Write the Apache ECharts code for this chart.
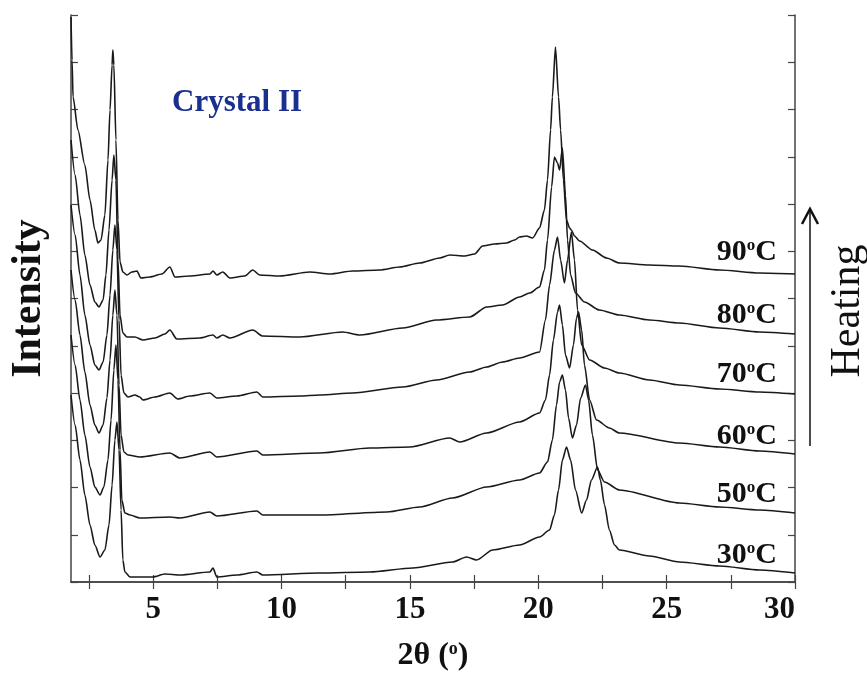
<!DOCTYPE html>
<html>
<head>
<meta charset="utf-8">
<script src="https://cdn.jsdelivr.net/npm/echarts@6/dist/echarts.min.js"></script>
<style>
  html, body { margin: 0; background: #fff; }
  #main { width: 867px; height: 673px; }
</style>
</head>
<body>
<div id="main"></div>
<script>
// XRD patterns of Crystal II on heating, [2theta, intensity (a.u., stacked)]
const pat30 = [[1.80,187],[1.96,157],[2.15,122],[2.34,87],[2.54,57],[2.73,37],[2.93,25],[3.12,32],[3.28,57],[3.40,97],[3.51,142],[3.59,160],[3.67,132],[3.75,72],[3.82,22],[3.90,10],[4.10,5],[4.99,5],[5.46,8],[6.04,7],[7.21,10],[7.33,14],[7.48,5],[8.26,7],[9.04,10],[9.27,7],[11.49,9],[13.43,10],[15.11,14],[16.66,20],[17.21,25],[17.60,22],[18.22,32],[19.27,37],[20.05,45],[20.44,52],[20.63,67],[20.79,92],[20.94,122],[21.10,135],[21.26,122],[21.45,92],[21.69,69],[21.88,82],[22.07,102],[22.31,115],[22.42,102],[22.58,77],[22.77,52],[22.97,37],[23.16,32],[24.33,26],[25.50,20],[27.06,16],[28.62,12],[30.0,9]];
const pat50 = [[1.80,247],[1.96,217],[2.15,182],[2.34,147],[2.54,115],[2.73,95],[2.93,87],[3.08,95],[3.24,122],[3.36,162],[3.47,212],[3.55,237],[3.63,202],[3.71,132],[3.78,82],[3.90,69],[4.10,67],[4.48,64],[5.65,65],[6.04,64],[7.21,70],[7.48,66],[9.04,71],[9.27,67],[11.49,67],[14.10,70],[15.38,75],[16.66,84],[17.99,95],[19.27,102],[20.05,109],[20.36,120],[20.55,142],[20.71,177],[20.83,200],[20.94,207],[21.06,192],[21.18,164],[21.33,144],[21.49,157],[21.65,184],[21.84,197],[21.96,182],[22.11,147],[22.31,112],[22.58,100],[23.16,92],[25.50,79],[27.06,75],[28.62,72],[30.0,69]];
const pat60 = [[1.80,312],[1.96,282],[2.15,247],[2.34,210],[2.54,177],[2.73,157],[2.89,149],[3.05,157],[3.20,184],[3.32,222],[3.43,267],[3.51,292],[3.59,267],[3.67,197],[3.75,147],[3.86,130],[4.02,127],[4.48,125],[5.65,129],[6.04,124],[7.21,130],[7.48,125],[9.04,131],[9.27,127],[11.49,129],[13.43,134],[14.99,135],[16.55,144],[16.94,140],[17.99,149],[19.27,160],[20.05,169],[20.28,182],[20.44,207],[20.59,242],[20.75,270],[20.83,277],[20.94,257],[21.06,227],[21.22,214],[21.37,237],[21.49,264],[21.57,270],[21.69,252],[21.80,217],[22.00,182],[22.27,162],[22.77,154],[23.16,149],[25.50,139],[27.06,135],[28.62,131],[30.0,128]];
const pat70 = [[1.80,377],[1.96,347],[2.15,307],[2.34,267],[2.54,237],[2.73,217],[2.89,212],[3.05,220],[3.20,247],[3.32,287],[3.43,332],[3.51,357],[3.59,332],[3.67,262],[3.75,207],[3.86,189],[4.02,185],[4.29,187],[4.48,185],[4.60,182],[5.07,185],[5.65,189],[5.96,183],[6.43,186],[7.21,189],[7.48,184],[8.26,186],[9.04,190],[9.27,185],[10.71,186],[11.49,187],[12.77,189],[14.72,195],[16.04,202],[17.33,210],[17.99,215],[18.61,220],[19.27,224],[20.05,230],[20.28,262],[20.44,297],[20.63,332],[20.75,345],[20.87,322],[21.02,299],[21.14,322],[21.29,350],[21.41,322],[21.53,272],[21.69,237],[22.00,222],[22.58,214],[23.16,209],[24.33,202],[25.50,197],[27.06,193],[28.62,190],[30.0,188]];
const pat80 = [[1.80,442],[1.96,407],[2.15,367],[2.34,327],[2.54,297],[2.73,280],[2.89,275],[3.05,282],[3.16,307],[3.28,352],[3.40,402],[3.47,427],[3.55,402],[3.63,322],[3.71,267],[3.82,249],[3.98,245],[4.29,245],[4.60,242],[5.07,244],[5.46,248],[5.65,252],[5.92,243],[6.82,244],[7.33,247],[7.48,244],[7.71,247],[7.99,244],[8.88,252],[9.27,246],[10.71,245],[12.38,250],[13.05,247],[14.72,254],[16.04,262],[17.33,265],[17.99,275],[18.61,277],[19.27,285],[19.66,289],[20.05,295],[20.24,312],[20.36,342],[20.52,395],[20.63,425],[20.75,419],[20.83,412],[20.94,434],[21.06,387],[21.14,342],[21.26,307],[21.45,289],[21.80,280],[22.38,272],[23.16,267],[24.33,262],[25.50,259],[27.06,254],[28.62,250],[30.0,248]];
const pat90 = [[1.80,565],[1.84,522],[1.88,485],[2.07,452],[2.34,417],[2.54,382],[2.73,352],[2.85,339],[2.97,342],[3.12,367],[3.24,422],[3.32,472],[3.40,517],[3.43,532],[3.47,517],[3.55,442],[3.63,362],[3.71,320],[3.82,310],[3.98,307],[4.17,310],[4.37,311],[4.52,304],[4.87,305],[5.34,308],[5.65,315],[5.85,305],[6.43,306],[7.21,308],[7.33,311],[7.48,307],[7.71,310],[7.99,304],[8.57,306],[8.88,312],[9.15,307],[9.93,306],[11.10,310],[11.88,308],[12.77,311],[13.82,312],[14.60,315],[15.38,319],[16.16,324],[16.55,327],[17.13,326],[17.52,328],[17.83,336],[18.30,338],[18.76,339],[19.08,342],[19.27,345],[19.54,346],[19.78,344],[20.05,354],[20.24,372],[20.36,402],[20.48,452],[20.55,485],[20.67,535],[20.79,485],[20.87,452],[20.98,402],[21.10,362],[21.22,354],[21.29,352],[21.41,346],[21.61,341],[22.11,332],[22.66,324],[23.16,319],[24.33,317],[25.50,316],[27.06,312],[28.62,309],[30.0,308]];

const temps = ['30', '50', '60', '70', '80', '90'];
const patterns = [pat30, pat50, pat60, pat70, pat80, pat90];
const xLabelValues = [5, 10, 15, 20, 25, 30];
const xTickValues = [2.5, 5, 7.5, 10, 12.5, 15, 17.5, 20, 22.5, 25, 27.5, 30];
const labelY = [555, 494, 436, 374, 315, 252];

const serif = "'Liberation Serif', 'Times New Roman', serif";
const axisColor = '#444';

const chart = echarts.init(document.getElementById('main'));

const xBase = {
  type: 'value',
  min: 1.8,
  max: 30,
  axisLine: { lineStyle: { color: axisColor, width: 1.5 } },
  axisTick: { inside: true, length: 7, customValues: xTickValues, lineStyle: { color: axisColor, width: 1.2 } },
  splitLine: { show: false }
};
const yBase = {
  type: 'value',
  min: 0,
  max: 567,
  interval: 47.25,
  axisLine: { show: true, lineStyle: { color: axisColor, width: 1.5 } },
  axisTick: { show: true, inside: true, length: 7, lineStyle: { color: axisColor, width: 1.2 } },
  axisLabel: { show: false },
  splitLine: { show: false }
};

const labelGraphics = temps.map((t, i) => ({
  type: 'text',
  x: 777,
  y: labelY[i],
  style: {
    text: t + '{s|o}C',
    fontFamily: serif,
    fontWeight: 'bold',
    fontSize: 30,
    fill: '#111',
    align: 'right',
    verticalAlign: 'middle',
    rich: { s: { fontFamily: serif, fontWeight: 'bold', fontSize: 17, verticalAlign: 'top', padding: [0, 0, 10, 0] } }
  }
}));

const option = {
  animation: false,
  backgroundColor: '#fff',
  grid: { left: 71, right: 72, top: 15, bottom: 91, outerBoundsMode: 'none', containLabel: false },
  xAxis: [
    Object.assign({}, xBase, {
      position: 'bottom',
      axisLabel: {
        customValues: xLabelValues,
        margin: 12,
        alignMaxLabel: 'right',
        fontFamily: serif, fontWeight: 'bold', fontSize: 31, color: '#111'
      },
      name: '2θ ({s|o})',
      nameLocation: 'middle',
      nameGap: 58,
      nameTextStyle: {
        fontFamily: serif, fontWeight: 'bold', fontSize: 32, color: '#111',
        rich: { s: { fontFamily: serif, fontWeight: 'bold', fontSize: 18, verticalAlign: 'top', padding: [0, 0, 12, 0] } }
      }
    }),
    Object.assign({}, xBase, { position: 'top', axisLabel: { show: false } })
  ],
  yAxis: [
    Object.assign({}, yBase, {
      position: 'left',
      name: 'Intensity',
      nameLocation: 'middle',
      nameGap: 21,
      nameTextStyle: { fontFamily: serif, fontWeight: 'bold', fontSize: 42, color: '#111' }
    }),
    Object.assign({}, yBase, { position: 'right' })
  ],
  series: patterns.map((p, i) => ({
    name: temps[i] + '°C',
    type: 'line',
    data: p,
    showSymbol: false,
    smooth: 0.25,
    smoothMonotone: 'x',
    lineStyle: { color: '#1a1a1a', width: 1.6 },
    z: 3
  })),
  graphic: labelGraphics.concat([
    {
      type: 'text', x: 172, y: 103,
      style: { text: 'Crystal II', fontFamily: serif, fontWeight: 'bold', fontSize: 31, fill: '#1b2f8f', verticalAlign: 'middle' }
    },
    {
      type: 'text', x: 848, y: 311, rotation: Math.PI / 2,
      style: { text: 'Heating', fontFamily: serif, fontSize: 42, fill: '#111', align: 'center', verticalAlign: 'middle' }
    },
    {
      type: 'line', shape: { x1: 810, y1: 446, x2: 810, y2: 210 },
      style: { stroke: '#111', lineWidth: 1.5 }
    },
    {
      type: 'polyline', shape: { points: [[802, 224], [810, 209], [818, 224]] },
      style: { stroke: '#111', lineWidth: 2.5, fill: null }
    }
  ])
};

chart.setOption(option);
</script>
</body>
</html>
